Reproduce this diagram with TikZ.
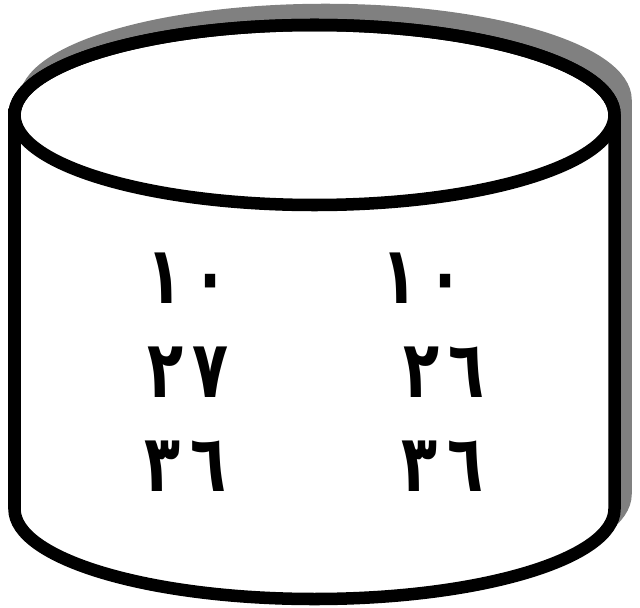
\documentclass[tikz,border=0pt]{standalone}
\usepackage{fontspec}
\usepackage{tikz}
\usetikzlibrary{positioning}
\newfontfamily\arabicfont[Script=Arabic]{DejaVu Sans}
\newcommand{\tallnum}[1]{\scalebox{1}[1.35]{#1}}

\begin{document}
\begin{tikzpicture}[
    rim/.style={line width=8.9pt},
    shade/.style={fill=black!50, draw=black!50},
    digits/.style={inner sep=0pt, font=\arabicfont\bfseries\fontsize{42}{42}\selectfont}
]
\useasboundingbox (0,0) rectangle (16,15.175);

% shadow behind the drum
\path[rim, shade, shift={(0.275,0.375)}] (0.3625,12.3) arc (180:0:7.5 and 2.25)
    -- (15.3625,2.45) arc (0:-180:7.5 and 2.25) -- cycle;

% drum body and lid
\draw[rim, fill=white] (0.3625,12.3) -- (0.3625,2.45) arc (180:360:7.5 and 2.25)
    -- (15.3625,12.3) arc (0:180:7.5 and 2.25) -- cycle;
\draw[rim] (7.8625,12.3) ellipse (7.5 and 2.25);

% left column
\node[digits] (left_one) at (4.68,8.22) {\tallnum{١\,٠}};
\node[digits] (left_two) at (4.70,5.88) {\tallnum{٢\,٧}};
\node[digits] (left_three) at (4.63,3.51) {\tallnum{٣\,٦}};

% right column
\node[digits] (right_one) at (10.56,8.22) {\tallnum{١\,٠}};
\node[digits] (right_two) at (11.10,5.88) {\tallnum{٢\,٦}};
\node[digits] (right_three) at (11.06,3.51) {\tallnum{٣\,٦}};

\end{tikzpicture}
\end{document}
